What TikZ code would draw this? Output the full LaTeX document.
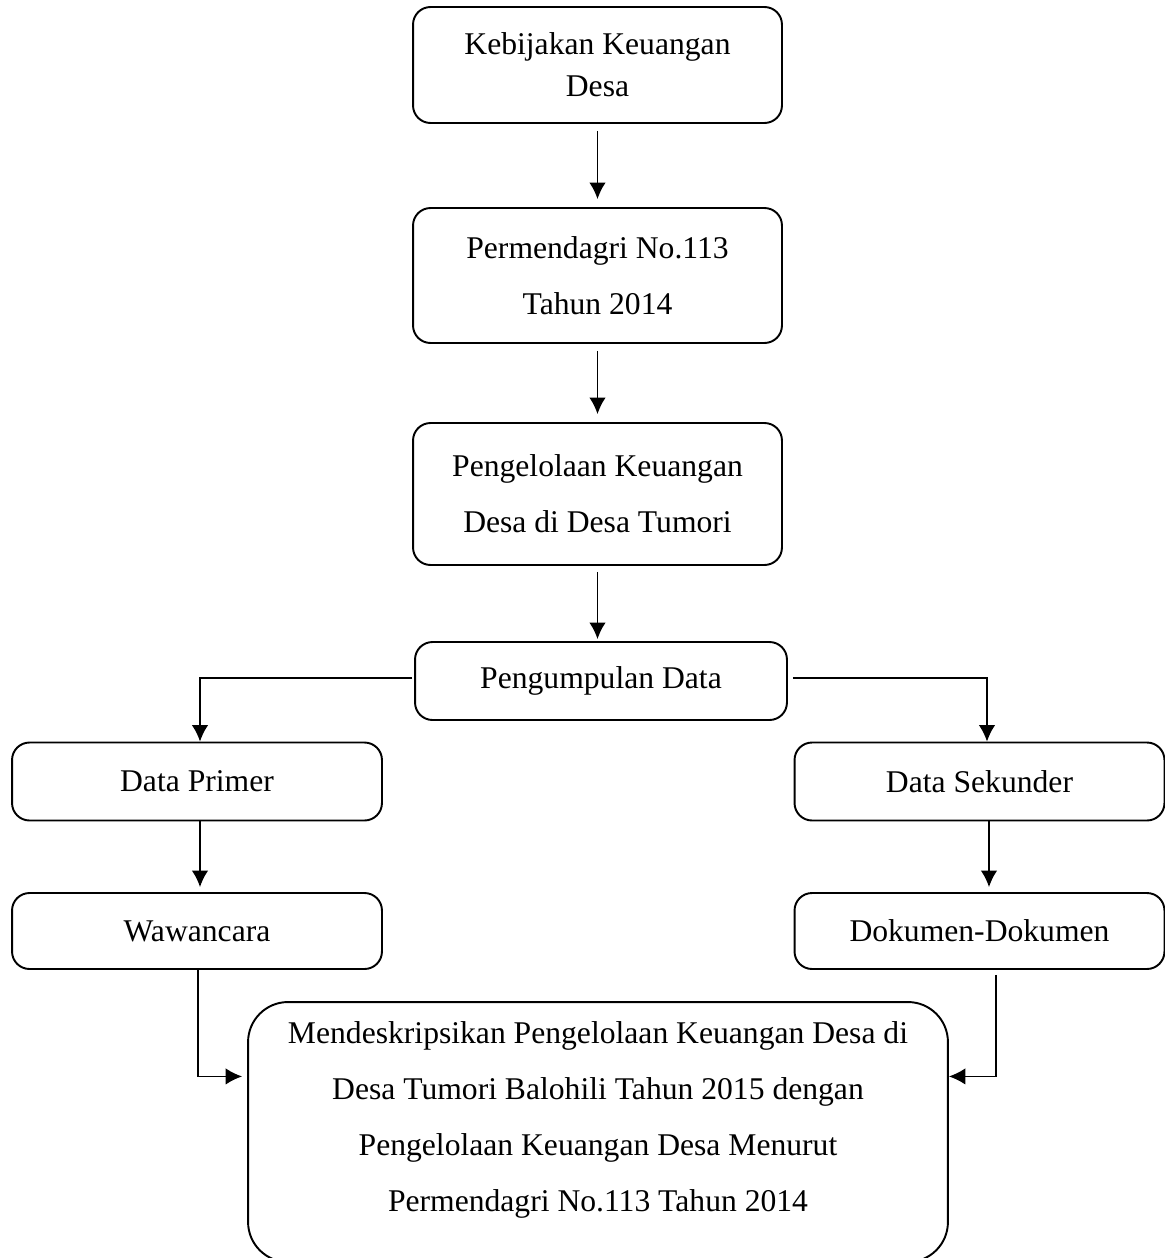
\documentclass[tikz,border=0pt]{standalone}
\usepackage{fontspec}
\setmainfont{Liberation Serif}
\usepackage{tikz}
\usetikzlibrary{calc}
\usetikzlibrary{arrows.meta}

\tikzset{
  kotak/.style={draw, rounded corners=0.35cm, line width=1.1pt, align=center, inner sep=0pt},
  satu/.style={font=\fontsize{18}{24}\selectfont},
  dua/.style={font=\fontsize{18}{32}\selectfont},
  panah/.style={-{Latex[length=3.3mm,width=3.3mm]}, line width=0.9pt}
}

\begin{document}
\begin{tikzpicture}[x=0.02cm, y=-0.02cm]
		\useasboundingbox (0,0) rectangle (1165,1258);
		% alur atas
		\node[kotak, satu, minimum width=7.38cm, minimum height=2.32cm] (kebijakan) at (597.5,65) {Kebijakan Keuangan\\Desa};
		\node[kotak, dua, minimum width=7.38cm, minimum height=2.7cm] (permendagri) at (597.5,275.5) {Permendagri No.113\\Tahun 2014};
		\node[kotak, dua, minimum width=7.38cm, minimum height=2.84cm] (kelola) at (597.5,494) {Pengelolaan Keuangan\\Desa di Desa Tumori};
		\node[kotak, satu, minimum width=7.44cm, minimum height=1.56cm] (kumpul) at (601,681) {Pengumpulan Data};
		% cabang kiri dan kanan
		\node[kotak, satu, minimum width=7.4cm, minimum height=1.56cm] (primer) at (197,781.5) {Data Primer};
		\node[kotak, satu, minimum width=7.4cm, minimum height=1.56cm] (sekunder) at (979.5,781.5) {Data Sekunder};
		\node[kotak, satu, minimum width=7.4cm, minimum height=1.52cm] (wawancara) at (197,931) {Wawancara};
		\node[kotak, satu, minimum width=7.4cm, minimum height=1.52cm] (dokumen) at (979.5,931) {Dokumen-Dokumen};
		% kotak hasil
		\node[kotak, rounded corners=0.8cm, minimum width=14cm, minimum height=5.2cm] (hasil) at (598,1132) {};
		\node[dua, align=center] (hasilteks) at (598,1120) {Mendeskripsikan Pengelolaan Keuangan Desa di\\Desa Tumori Balohili Tahun 2015 dengan\\Pengelolaan Keuangan Desa Menurut\\Permendagri No.113 Tahun 2014};
		% panah
		\draw[panah, shorten <=0.14cm, shorten >=0.16cm] (kebijakan) -- (permendagri);
		\draw[panah, shorten <=0.14cm, shorten >=0.16cm] (permendagri) -- (kelola);
		\draw[panah, shorten <=0.12cm, shorten >=0.04cm] (kelola.south) -- (kelola.south |- kumpul.north);
		\draw[panah, shorten <=0.04cm] ([yshift=0.06cm]kumpul.west) -| ([xshift=0.06cm]primer.north);
		\draw[panah, shorten <=0.1cm] ([yshift=0.06cm]kumpul.east) -| ([xshift=0.15cm]sekunder.north);
		\draw[panah, shorten >=0.1cm] ([xshift=0.06cm]primer.south) -- ([xshift=0.06cm]wawancara.north);
		\draw[panah, shorten >=0.1cm] ([xshift=0.19cm]sekunder.south) -- ([xshift=0.19cm]dokumen.north);
		\draw[panah, shorten >=0.1cm] ([xshift=0.02cm]wawancara.south) |- (hasil.171);
		\draw[panah, shorten <=0.1cm] ([xshift=0.33cm]dokumen.south) |- (hasil.9);
		\end{tikzpicture}
\end{document}
